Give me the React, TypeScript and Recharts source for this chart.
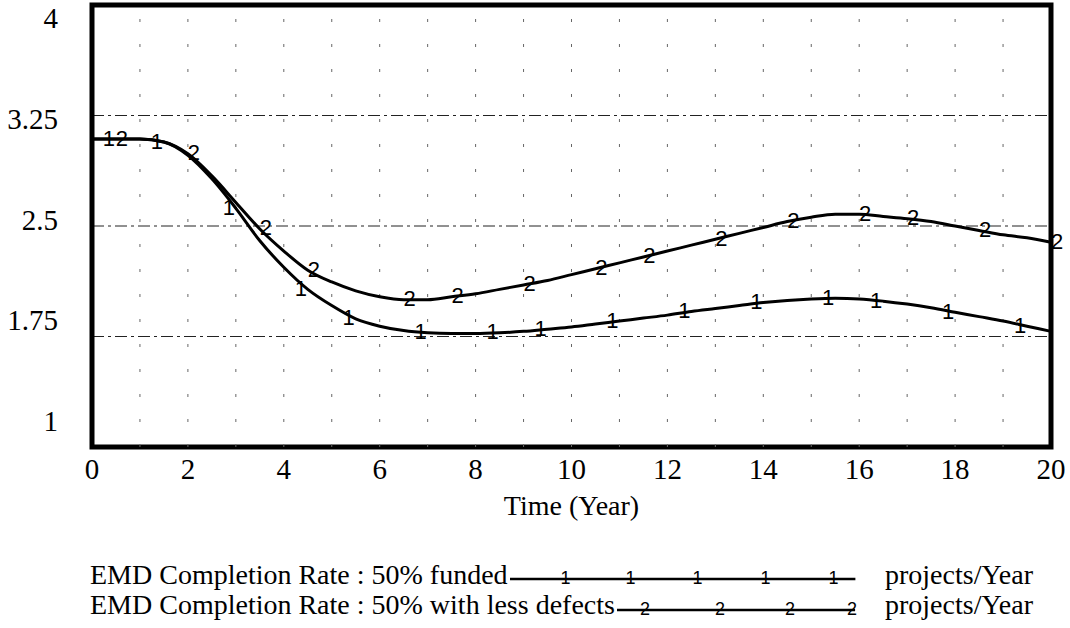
import {
  LineChart,
  Line,
  XAxis,
  YAxis,
  CartesianGrid,
  ReferenceLine,
  ReferenceArea,
} from "recharts";

// time axis, half-year steps
const years = [
  0, 0.5, 1, 1.5, 2, 2.5, 3, 3.5, 4, 4.5, 5, 5.5, 6, 6.5, 7, 7.5, 8, 8.5, 9, 9.5, 10,
  10.5, 11, 11.5, 12, 12.5, 13, 13.5, 14, 14.5, 15, 15.5, 16, 16.5, 17, 17.5, 18, 18.5,
  19, 19.5, 20,
];

// 1: 50% funded
const funded = [
  3.09, 3.09, 3.09, 3.07, 2.98, 2.82, 2.62, 2.4, 2.22, 2.07, 1.96, 1.87, 1.82, 1.79,
  1.775, 1.77, 1.77, 1.775, 1.785, 1.8, 1.815, 1.835, 1.855, 1.875, 1.895, 1.92, 1.94,
  1.96, 1.98, 1.995, 2.005, 2.01, 2.005, 1.99, 1.97, 1.945, 1.915, 1.885, 1.855, 1.82,
  1.785,
];

// 2: 50% with less defects
const lessDefects = [
  3.09, 3.09, 3.09, 3.07, 2.99, 2.84, 2.66, 2.48, 2.33, 2.2, 2.12, 2.06, 2.02, 2.0, 2.0,
  2.02, 2.04, 2.07, 2.1, 2.13, 2.17, 2.21, 2.25, 2.29, 2.33, 2.37, 2.41, 2.45, 2.49,
  2.53, 2.56, 2.58, 2.58, 2.565, 2.55, 2.53, 2.5, 2.47, 2.44, 2.42, 2.39,
];

const markerYears1 = [0.5, 1.5, 3, 4.5, 5.5, 7, 8.5, 9.5, 11, 12.5, 14, 15.5, 16.5, 18, 19.5];
const markerYears2 = [0.5, 2, 3.5, 4.5, 6.5, 7.5, 9, 10.5, 11.5, 13, 14.5, 16, 17, 18.5, 20];

const xTicks = [0, 2, 4, 6, 8, 10, 12, 14, 16, 18, 20];
const yTicks = [1, 1.75, 2.5, 3.25, 4];
const gridYears = [1, 2, 3, 4, 5, 6, 7, 8, 9, 10, 11, 12, 13, 14, 15, 16, 17, 18, 19];

const xTitle = "Time (Year)";
const seriesNames = [
  "EMD Completion Rate : 50% funded",
  "EMD Completion Rate : 50% with less defects",
];
const seriesUnits = ["projects/Year", "projects/Year"];

const data = years.map((t, i) => ({ t, funded: funded[i], less: lessDefects[i] }));

const SERIF = '"Liberation Serif", "Times New Roman", serif';
const SANS = '"Liberation Sans", Arial, sans-serif';

function XTick({ x, y, payload }: any) {
  return (
    <text
      x={x}
      y={y + 32}
      textAnchor="middle"
      fontSize={29}
      fill="#000"
      style={{ fontFamily: SERIF }}
    >
      {payload.value}
    </text>
  );
}

function YTick({ y, payload }: any) {
  // Vensim spreads the labels a little tighter than the grid
  return (
    <text
      x={58}
      y={28 + (y - 5) * 0.912}
      textAnchor="end"
      fontSize={29}
      fill="#000"
      style={{ fontFamily: SERIF }}
    >
      {payload.value}
    </text>
  );
}

function makeMarker(label: string, marks: number[], dx: number) {
  return (props: any) => {
    const { cx, cy, index, payload } = props;
    if (!marks.includes(payload.t)) return <g key={`n-${label}-${index}`} />;
    return (
      <text
        key={`m-${label}-${index}`}
        x={cx + dx}
        y={cy - 1}
        textAnchor="middle"
        dominantBaseline="central"
        fontSize={22}
        fill="#000"
        style={{ fontFamily: SANS }}
      >
        {label}
      </text>
    );
  };
}

// legend marker offsets, measured back from the right end of the swatch
const legendMarks = [
  [-290, -225, -158, -90, -22],
  [-210, -135, -65, -3],
];

function LegendRows() {
  return (
    <>
      {seriesNames.map((name, i) => (
        <div
          key={name}
          style={{
            position: "absolute",
            left: 90,
            top: 560 + i * 30,
            width: 765,
            height: 30,
            display: "flex",
            fontFamily: SERIF,
            fontSize: 28,
            lineHeight: "30px",
            color: "#000",
          }}
        >
          <span style={{ whiteSpace: "nowrap" }}>{name}</span>
          <svg style={{ flex: "1 1 0", width: 0, minWidth: 0, height: 30, overflow: "visible" }}>
            <line x1={2} x2="100%" y1={19 + i} y2={19 + i} stroke="#000" strokeWidth={2.5} />
            {legendMarks[i].map((dx) => (
              <text
                key={dx}
                x="100%"
                dx={dx}
                y={18 + i}
                textAnchor="middle"
                dominantBaseline="central"
                fontSize={18}
                fill="#000"
                style={{ fontFamily: SANS }}
              >
                {i + 1}
              </text>
            ))}
          </svg>
          <span
            style={{
              position: "absolute",
              left: 795,
              whiteSpace: "nowrap",
            }}
          >
            {seriesUnits[i]}
          </span>
        </div>
      ))}
    </>
  );
}

export default function App() {
  return (
    <div style={{ position: "absolute", left: 0, top: 0, width: 1070, height: 628, background: "#fff" }}>
      <LineChart
        width={1070}
        height={628}
        data={data}
        margin={{ top: 5, right: 19, left: 0, bottom: 0 }}
      >
        <CartesianGrid
          vertical={false}
          stroke="#222"
          strokeWidth={1}
          strokeDasharray="12 4 3 4"
        />
        {gridYears.map((g) => (
          <ReferenceLine key={g} x={g} stroke="#666" strokeWidth={1} strokeDasharray="3 22" />
        ))}
        <XAxis
          dataKey="t"
          type="number"
          domain={[0, 20]}
          ticks={xTicks}
          height={181}
          axisLine={false}
          tickLine={false}
          tickSize={0}
          tickMargin={0}
          tick={<XTick />}
          interval={0}
          label={{
            value: xTitle,
            position: "insideTop",
            offset: 48,
            fill: "#000",
            fontSize: 28,
            fontFamily: SERIF,
          }}
        />
        <YAxis
          type="number"
          domain={[1, 4]}
          ticks={yTicks}
          width={92}
          axisLine={false}
          tickLine={false}
          tickSize={0}
          tickMargin={0}
          tick={<YTick />}
          interval={0}
        />
        <Line
          type="monotone"
          dataKey="funded"
          stroke="#000"
          strokeWidth={3}
          dot={makeMarker("1", markerYears1, -7)}
          activeDot={false}
          isAnimationActive={false}
        />
        <Line
          type="monotone"
          dataKey="less"
          stroke="#000"
          strokeWidth={3}
          dot={makeMarker("2", markerYears2, 6)}
          activeDot={false}
          isAnimationActive={false}
        />
        <ReferenceArea x1={0} x2={20} y1={1} y2={4} fill="none" stroke="#000" strokeWidth={5} />
      </LineChart>
      <LegendRows />
    </div>
  );
}
